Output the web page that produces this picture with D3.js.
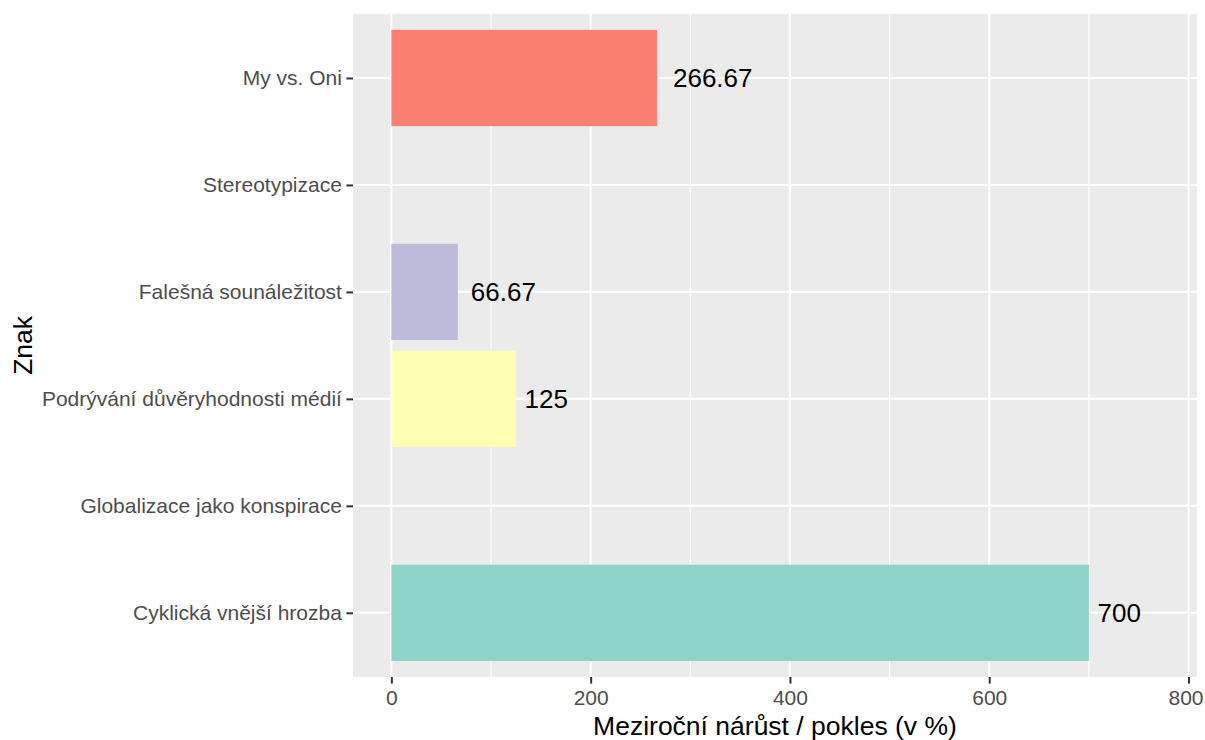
<!DOCTYPE html>
<html>
<head>
<meta charset="utf-8">
<script src="https://cdn.jsdelivr.net/npm/d3@7"></script>
<style>
  html, body { margin: 0; padding: 0; background: #ffffff; }
  svg { display: block; font-family: "Liberation Sans", Arial, sans-serif; }
</style>
</head>
<body>
<svg id="chart" width="1205" height="740"></svg>
<script>
// Categories listed top to bottom
const categories = [
  "My vs. Oni",
  "Stereotypizace",
  "Falešná sounáležitost",
  "Podrývání důvěryhodnosti médií",
  "Globalizace jako konspirace",
  "Cyklická vnější hrozba"
];
const values = [266.67, null, 66.67, 125, null, 700];
const valueLabels = ["266.67", "", "66.67", "125", "", "700"];
const barColors = ["#FB8072", null, "#BEBADA", "#FFFFB3", null, "#8DD3C7"];
const xTicks = [0, 200, 400, 600, 800];
const xMinorTicks = [100, 300, 500, 700];
const xTitle = "Meziroční nárůst / pokles (v %)";
const yTitle = "Znak";

const W = 1205;
const svg = d3.select("#chart");
const panel = { left: 353, right: 1197, top: 13.8, bottom: 677 };

const x = d3.scaleLinear().domain([-38.5, 808.5]).range([panel.left, panel.right]);
// discrete scale with 0.6 expansion on each side
const n = categories.length;
const step = (panel.bottom - panel.top) / (n - 1 + 1.2);
const yPos = d3.scalePoint().domain(categories)
  .range([panel.top + 0.6 * step, panel.bottom - 0.6 * step]);
const barH = 0.9 * step;

// panel background
svg.append("rect")
  .attr("x", panel.left).attr("y", panel.top)
  .attr("width", panel.right - panel.left).attr("height", panel.bottom - panel.top)
  .attr("fill", "#EBEBEB");

const grid = svg.append("g");
// minor vertical
grid.selectAll("line.minor").data(xMinorTicks).enter().append("line")
  .attr("x1", d => x(d)).attr("x2", d => x(d))
  .attr("y1", panel.top).attr("y2", panel.bottom)
  .attr("stroke", "#ffffff").attr("stroke-width", 1.1);
// major vertical
grid.selectAll("line.major").data(xTicks).enter().append("line")
  .attr("x1", d => x(d)).attr("x2", d => x(d))
  .attr("y1", panel.top).attr("y2", panel.bottom)
  .attr("stroke", "#ffffff").attr("stroke-width", 2.1);
// major horizontal
grid.selectAll("line.h").data(categories).enter().append("line")
  .attr("x1", panel.left).attr("x2", panel.right)
  .attr("y1", d => yPos(d)).attr("y2", d => yPos(d))
  .attr("stroke", "#ffffff").attr("stroke-width", 2.1);

// bars
const data = categories.map((c, i) => ({ c, v: values[i], lab: valueLabels[i], col: barColors[i] }))
  .filter(d => d.v !== null);

svg.append("g").selectAll("rect").data(data).enter().append("rect")
  .attr("x", d => x(0))
  .attr("y", d => yPos(d.c) - barH / 2)
  .attr("width", d => x(d.v) - x(0))
  .attr("height", barH)
  .attr("fill", d => d.col);

// value labels with hjust = -0.2
const labs = svg.append("g").selectAll("text").data(data).enter().append("text")
  .attr("y", d => yPos(d.c))
  .attr("dy", "0.35em")
  .attr("font-size", 26)
  .attr("fill", "#000000")
  .text(d => d.lab);
labs.each(function(d) {
  const w = this.getComputedTextLength();
  d3.select(this).attr("x", x(d.v) + 0.2 * w);
});

// x axis
const xAxis = d3.axisBottom(x).tickValues(xTicks).tickSize(6.6).tickPadding(6).tickFormat(d3.format("d"));
const gx = svg.append("g").attr("transform", `translate(0,${panel.bottom})`).call(xAxis);
gx.select(".domain").remove();
gx.selectAll(".tick line").attr("stroke", "#333333").attr("stroke-width", 2);
gx.selectAll(".tick text").attr("font-size", 21).attr("fill", "#4D4D4D")
  .attr("font-family", "Liberation Sans, Arial, sans-serif");
// keep the last tick label inside the page
gx.selectAll(".tick text").each(function(d) {
  const w = this.getComputedTextLength();
  const right = x(d) + w / 2;
  if (right > W - 2) d3.select(this).attr("x", (W - 2) - right);
});

// y axis
const yAxis = d3.axisLeft(yPos).tickSize(6.6).tickPadding(4.5);
const gy = svg.append("g").attr("transform", `translate(${panel.left},0)`).call(yAxis);
gy.select(".domain").remove();
gy.selectAll(".tick line").attr("stroke", "#333333").attr("stroke-width", 2);
gy.selectAll(".tick text").attr("font-size", 21).attr("fill", "#4D4D4D")
  .attr("font-family", "Liberation Sans, Arial, sans-serif");

// axis titles
svg.append("text")
  .attr("x", (panel.left + panel.right) / 2)
  .attr("y", 735)
  .attr("text-anchor", "middle")
  .attr("font-size", 26.5)
  .attr("fill", "#000000")
  .text(xTitle);

svg.append("text")
  .attr("transform", `translate(32,${(panel.top + panel.bottom) / 2}) rotate(-90)`)
  .attr("text-anchor", "middle")
  .attr("font-size", 26.5)
  .attr("fill", "#000000")
  .text(yTitle);
</script>
</body>
</html>
